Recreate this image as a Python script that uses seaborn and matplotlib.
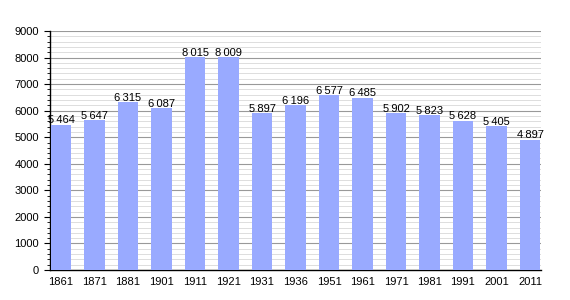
import matplotlib
matplotlib.use("Agg")
import matplotlib.pyplot as plt
import seaborn as sns
import pandas as pd
from matplotlib.ticker import MultipleLocator

years = ["1861", "1871", "1881", "1901", "1911", "1921", "1931", "1936", "1951", "1961",
         "1971", "1981", "1991", "2001", "2011"]
population = [5464, 5647, 6315, 6087, 8015, 8009, 5897, 6196, 6577, 6485,
              5902, 5823, 5628, 5405, 4897]

df = pd.DataFrame({"year": years, "pop": population})

sns.set_style("white")
plt.rcParams['font.family'] = ['Liberation Sans', 'DejaVu Sans']
plt.rcParams['text.color'] = 'black'
plt.rcParams['xtick.color'] = 'black'
plt.rcParams['ytick.color'] = 'black'

fig = plt.figure(figsize=(5.7, 3.0), dpi=100)
ax = fig.add_axes([50/570, 30/300, 491/570, 239/300])

sns.barplot(data=df, x="year", y="pop", color="#99AAFF", saturation=1, width=0.62,
            edgecolor="none", linewidth=0, ax=ax, zorder=3)

ax.set_ylim(0, 9000)
ax.set_xlim(-0.33, len(years) - 1 + 0.33)
ax.yaxis.set_major_locator(MultipleLocator(1000))
ax.yaxis.set_minor_locator(MultipleLocator(200))
ax.grid(which="major", axis="y", color="#999999", linewidth=0.8, zorder=0)
ax.grid(which="minor", axis="y", color="#d8d8d8", linewidth=0.6, zorder=0)
ax.set_axisbelow(True)

for s in ["top", "right"]:
    ax.spines[s].set_visible(False)
ax.spines["left"].set_color("black")
ax.spines["bottom"].set_color("black")
ax.spines["left"].set_linewidth(1.0)
ax.spines["bottom"].set_linewidth(1.0)
ax.tick_params(axis="y", which="major", left=True, length=4, width=0.8, labelsize=8, pad=4)
ax.tick_params(axis="y", which="minor", left=True, length=2, width=0.6)
ax.tick_params(axis="x", bottom=False, labelsize=8, pad=1.5)
ax.set_xlabel("")
ax.set_ylabel("")

for i, v in enumerate(population):
    label = f"{v:,}".replace(",", "\u2009")
    ax.text(i, v - 20, label, ha="center", va="bottom", fontsize=8, zorder=5)

fig.savefig("out.png", dpi=100)
